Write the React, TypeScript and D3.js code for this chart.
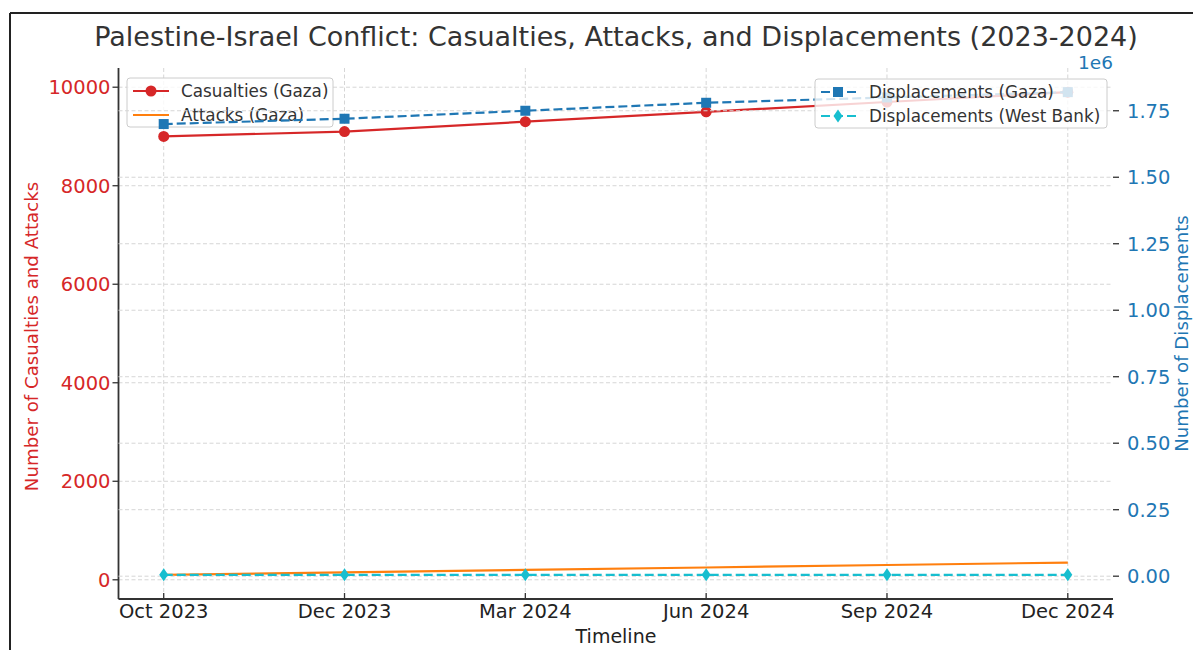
import React from "react";
import * as d3 from "d3";

const months = ["Oct 2023", "Dec 2023", "Mar 2024", "Jun 2024", "Sep 2024", "Dec 2024"];
const casualtiesGaza = [9000, 9100, 9300, 9500, 9700, 9900];
const attacksGaza = [100, 150, 200, 250, 300, 350];
const displacementsGaza = [1700000, 1720000, 1750000, 1780000, 1800000, 1820000];
const displacementsWestBank = [5000, 5000, 5000, 5000, 5000, 5000];
const leftTicks = [0, 2000, 4000, 6000, 8000, 10000];
const rightTicks = [0, 250000, 500000, 750000, 1000000, 1250000, 1500000, 1750000];

const W = 1193;
const H = 650;
const left = 118.5;
const right = 1113;
const top = 68;
const bottom = 599;

const RED = "#d62728";
const ORANGE = "#ff7f0e";
const BLUE = "#1f77b4";
const CYAN = "#17becf";
const FONT = "DejaVu Sans, sans-serif";
const TICK = 19.5;

// matplotlib style auto limits: data extent plus 5% each side
function padded(values: number[]): [number, number] {
  const [lo, hi] = d3.extent(values) as [number, number];
  const m = (hi - lo) * 0.05;
  return [lo - m, hi + m];
}

export default function App() {
  const x = d3.scalePoint<string>().domain(months).range([left, right]).padding(0.25);
  const y1 = d3
    .scaleLinear()
    .domain(padded([...casualtiesGaza, ...attacksGaza]))
    .range([bottom, top]);
  const y2 = d3
    .scaleLinear()
    .domain(padded([...displacementsGaza, ...displacementsWestBank]))
    .range([bottom, top]);

  const line1 = d3
    .line<number>()
    .x((_, i) => x(months[i]) as number)
    .y(d => y1(d));
  const line2 = d3
    .line<number>()
    .x((_, i) => x(months[i]) as number)
    .y(d => y2(d));

  const grid = { stroke: "#d6d6d6", strokeWidth: 1, strokeDasharray: "4,2.5" };
  const diamond = (cx: number, cy: number) =>
    `M${cx},${cy - 6.5}L${cx + 4.5},${cy}L${cx},${cy + 6.5}L${cx - 4.5},${cy}Z`;

  return (
    <svg
      width={W}
      height={H}
      style={{ position: "absolute", left: 0, top: 0, background: "#fff" }}
      fontFamily={FONT}
    >
      {/* frame of the screenshot */}
      <line x1={10} x2={W} y1={13} y2={13} stroke="#222" strokeWidth={2} />
      <line x1={10} x2={10} y1={13} y2={H} stroke="#222" strokeWidth={2} />

      <text x={616} y={45.5} textAnchor="middle" fontSize={27} fill="#333">
        Palestine-Israel Conflict: Casualties, Attacks, and Displacements (2023-2024)
      </text>

      {/* ax1 grid */}
      {months.map(m => (
        <line key={m} x1={x(m)} x2={x(m)} y1={top} y2={bottom} {...grid} />
      ))}
      {leftTicks.map(t => (
        <line key={t} x1={left} x2={right} y1={y1(t)} y2={y1(t)} {...grid} />
      ))}

      {/* ax1 lines */}
      <path d={line1(attacksGaza) || ""} fill="none" stroke={ORANGE} strokeWidth={2.2} />
      <path d={line1(casualtiesGaza) || ""} fill="none" stroke={RED} strokeWidth={2.2} />
      {casualtiesGaza.map((v, i) => (
        <circle key={i} cx={x(months[i])} cy={y1(v)} r={5.5} fill={RED} />
      ))}

      {/* spines and ticks */}
      <line x1={left} x2={left} y1={top} y2={bottom} stroke="#333" strokeWidth={1.8} />
      <line x1={left} x2={right} y1={bottom} y2={bottom} stroke="#333" strokeWidth={1.8} />
      {leftTicks.map(t => (
        <g key={t}>
          <line x1={left - 6} x2={left} y1={y1(t)} y2={y1(t)} stroke="#333" strokeWidth={1.3} />
          <text x={left - 8} y={y1(t)} dy="0.36em" textAnchor="end" fontSize={TICK} fill={RED}>
            {t}
          </text>
        </g>
      ))}
      {months.map(m => (
        <g key={m}>
          <line x1={x(m)} x2={x(m)} y1={bottom - 6} y2={bottom} stroke="#333" strokeWidth={1.3} />
          <text x={x(m)} y={618} textAnchor="middle" fontSize={TICK} fill="#222">
            {m}
          </text>
        </g>
      ))}
      <text x={616} y={643} textAnchor="middle" fontSize={19} fill="#222">
        Timeline
      </text>
      <text
        transform={`translate(38,${(top + bottom) / 2 + 3}) rotate(-90)`}
        textAnchor="middle"
        fontSize={18.2}
        fill={RED}
      >
        Number of Casualties and Attacks
      </text>

      {/* legend ax1 */}
      <rect x={127} y={78} width={206} height={49} rx={3} fill="#fff" fillOpacity={0.8} stroke="#ccc" />
      <line x1={133} x2={169} y1={91} y2={91} stroke={RED} strokeWidth={2.2} />
      <circle cx={151} cy={91} r={5.5} fill={RED} />
      <text x={181} y={91} dy="0.36em" fontSize={16.8} fill="#333">
        Casualties (Gaza)
      </text>
      <line x1={133} x2={169} y1={115} y2={115} stroke={ORANGE} strokeWidth={2.2} />
      <text x={181} y={115} dy="0.36em" fontSize={16.8} fill="#333">
        Attacks (Gaza)
      </text>

      {/* ax2 grid */}
      {rightTicks.map(t => (
        <line key={t} x1={left} x2={right} y1={y2(t)} y2={y2(t)} {...grid} />
      ))}

      {/* ax2 lines */}
      <path
        d={line2(displacementsWestBank) || ""}
        fill="none"
        stroke={CYAN}
        strokeWidth={2.2}
        strokeDasharray="9,4"
      />
      {displacementsWestBank.map((v, i) => (
        <path key={i} d={diamond(x(months[i]) as number, y2(v))} fill={CYAN} />
      ))}
      <path
        d={line2(displacementsGaza) || ""}
        fill="none"
        stroke={BLUE}
        strokeWidth={2.2}
        strokeDasharray="9,4"
      />
      {displacementsGaza.map((v, i) => (
        <rect key={i} x={(x(months[i]) as number) - 5} y={y2(v) - 5} width={10} height={10} fill={BLUE} />
      ))}

      {rightTicks.map(t => (
        <g key={t}>
          <line x1={right} x2={right + 6} y1={y2(t)} y2={y2(t)} stroke="#333" strokeWidth={1.3} />
          <text x={right + 14} y={y2(t)} dy="0.36em" fontSize={TICK} fill={BLUE}>
            {d3.format(".2f")(t / 1e6)}
          </text>
        </g>
      ))}
      <text x={right} y={68.5} textAnchor="end" fontSize={18.5} fill={BLUE}>
        1e6
      </text>
      <text
        transform={`translate(1188,${(top + bottom) / 2}) rotate(-90)`}
        textAnchor="middle"
        fontSize={18.2}
        fill={BLUE}
      >
        Number of Displacements
      </text>

      {/* legend ax2 */}
      <rect x={815} y={79} width={292} height={49} rx={3} fill="#fff" fillOpacity={0.8} stroke="#ccc" />
      <line x1={821} x2={856} y1={92} y2={92} stroke={BLUE} strokeWidth={2.2} strokeDasharray="9,4" />
      <rect x={833} y={87} width={10} height={10} fill={BLUE} />
      <text x={869} y={92} dy="0.36em" fontSize={16.8} fill="#333">
        Displacements (Gaza)
      </text>
      <line x1={821} x2={856} y1={116} y2={116} stroke={CYAN} strokeWidth={2.2} strokeDasharray="9,4" />
      <path d={diamond(838, 116)} fill={CYAN} />
      <text x={869} y={116} dy="0.36em" fontSize={16.8} fill="#333">
        Displacements (West Bank)
      </text>
    </svg>
  );
}
